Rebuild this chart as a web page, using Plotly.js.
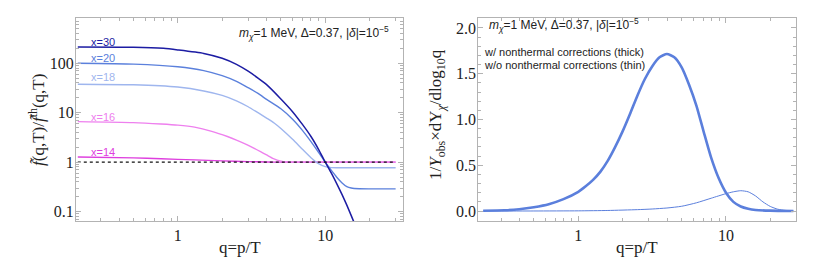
<!DOCTYPE html>
<html>
<head>
<meta charset="utf-8">
<script src="https://cdn.plot.ly/plotly-3.0.1.min.js"></script>
<style>
html,body{margin:0;padding:0;background:#fff;}
#chart{width:830px;height:264px;}
</style>
</head>
<body>
<div id="chart"></div>
<script>
// ---------- Left panel data: ratio f/f_th vs q ----------
const q30 = [0.21, 0.5, 0.8, 1.0, 1.5, 2.0, 2.5, 3.0, 3.5, 4.0, 5.0, 6.0, 7.0, 8.0, 9.0, 10, 11, 12, 13, 14, 15, 16, 17];
const r30 = [214, 211, 200, 186, 158, 126, 95, 69, 50, 37, 19, 10.5, 5.8, 3.3, 1.82, 1.0, 0.60, 0.36, 0.22, 0.135, 0.083, 0.052, 0.033];

const q20 = [0.21, 0.5, 1.0, 1.5, 2.0, 2.5, 3.0, 3.5, 4.0, 5.0, 6.0, 7.0, 8.0, 9.0, 10, 11, 12, 13, 14, 15, 17, 20, 30];
const r20 = [100, 96, 85, 71, 56, 43, 32, 24.5, 18.6, 12.0, 7.4, 4.4, 2.6, 1.58, 1.0, 0.68, 0.49, 0.38, 0.32, 0.30, 0.29, 0.288, 0.288];

const q18 = [0.21, 0.5, 1, 1.5, 2, 2.5, 3, 3.5, 4, 4.5, 5, 6, 7, 8, 9, 10, 11, 12, 30];
const r18 = [37.7, 36.7, 33, 27.5, 22.4, 17.4, 13.2, 10.0, 7.8, 6.2, 4.8, 2.9, 1.82, 1.23, 0.93, 0.81, 0.775, 0.77, 0.77];

const q16 = [0.21, 0.5, 0.77, 1.0, 1.3, 1.7, 2.17, 2.5, 2.96, 3.3, 3.64, 4.0, 4.45, 5.0, 5.5, 6, 30];
const r16 = [6.6, 6.3, 5.9, 5.6, 5.1, 4.2, 3.3, 2.8, 2.24, 1.9, 1.63, 1.4, 1.18, 1.05, 1.01, 1.0, 1.0];

const q14 = [0.21, 0.5, 0.77, 1.3, 2, 3, 4, 5, 30];
const r14 = [1.27, 1.22, 1.17, 1.11, 1.06, 1.025, 1.007, 1.0, 1.0];

const qRef = [0.21, 30];
const rRef = [1, 1];

const curveLabels = ["x=30", "x=20", "x=18", "x=16", "x=14"];

// ---------- Right panel data: 1/Y dY/dlog10 q ----------
const qThick = [0.227, 0.316, 0.398, 0.5, 0.631, 0.794, 1.0, 1.122, 1.259, 1.413, 1.585, 1.778, 1.995, 2.239, 2.512, 2.818, 3.162, 3.548, 3.981, 4.467, 5.012, 5.623, 6.31, 7.079, 7.943, 8.913, 10.0, 11.22, 12.59, 14.13, 15.85, 19.95, 28.6];
const yThick = [0.003, 0.008, 0.02, 0.042, 0.075, 0.13, 0.21, 0.27, 0.34, 0.43, 0.55, 0.70, 0.87, 1.06, 1.26, 1.44, 1.58, 1.68, 1.715, 1.68, 1.57, 1.38, 1.15, 0.86, 0.58, 0.36, 0.20, 0.10, 0.05, 0.025, 0.012, 0.004, 0.001];

const qThin = [0.227, 0.5, 1.0, 1.585, 2.512, 3.162, 3.981, 5.012, 6.31, 7.943, 10.0, 11.22, 12.59, 14.13, 15.85, 17.78, 19.95, 22.39, 25.12, 28.6];
const yThin = [0.0, 0.0005, 0.002, 0.006, 0.015, 0.022, 0.033, 0.052, 0.09, 0.14, 0.19, 0.21, 0.222, 0.21, 0.165, 0.10, 0.05, 0.02, 0.007, 0.002];

const yTicks2 = [0, 0.5, 1, 1.5, 2];
const yTickText2 = ["0.0", "0.5", "1.0", "1.5", "2.0"];

// ---------- styling ----------
const W = 830, H = 264;
const px = v => v / W;
const py = v => 1 - v / H;
const SERIF = "Liberation Serif";
const SANS = "Liberation Sans";
const FRAME = "#b3b3b3";
const C30 = "#1c1ca3", C20 = "#5b80dc", C18 = "#9fb6ee", C16 = "#ee80ee", C14 = "#de3fde";
const CR = "#5b7fdc";

function line(x, y, color, width, xa, ya) {
  return {x: x, y: y, type: "scatter", mode: "lines", xaxis: xa, yaxis: ya,
    line: {color: color, width: width, shape: "spline", smoothing: 0.6},
    hoverinfo: "skip", showlegend: false};
}

const data = [
  line(q14, r14, C14, 1.4, "x", "y"),
  line(q16, r16, C16, 1.4, "x", "y"),
  line(q18, r18, C18, 1.4, "x", "y"),
  line(q20, r20, C20, 1.4, "x", "y"),
  line(q30, r30, C30, 1.5, "x", "y"),
  {x: qRef, y: rRef, type: "scatter", mode: "lines", xaxis: "x", yaxis: "y",
    line: {color: "#111", width: 1.3, dash: "dot"}, hoverinfo: "skip", showlegend: false},
  line(qThin, yThin, CR, 1.0, "x2", "y2"),
  line(qThick, yThick, CR, 2.6, "x2", "y2")
];

function axisBase(extra) {
  return Object.assign({
    showline: true, linecolor: FRAME, linewidth: 1, mirror: "allticks",
    ticks: "inside", ticklen: 5, tickwidth: 1, tickcolor: FRAME,
    showgrid: false, zeroline: false, automargin: false,
    tickfont: {family: SERIF, size: 16, color: "#222"}
  }, extra);
}
function minorLog() {
  return {ticks: "inside", ticklen: 3, dtick: "D1", tickcolor: FRAME, showgrid: false};
}

const yDom = [py(221), py(18)];

const layout = {
  width: W, height: H,
  margin: {l: 0, r: 0, t: 0, b: 0},
  font: {family: SERIF, size: 16, color: "#222"},
  paper_bgcolor: "#fff", plot_bgcolor: "#fff",
  showlegend: false,
  xaxis: axisBase({type: "log", range: [-0.69, 1.527], domain: [px(76), px(403)], anchor: "y",
    dtick: 1, minor: minorLog()}),
  yaxis: axisBase({type: "log", range: [-1.19, 2.915], domain: yDom, anchor: "x",
    dtick: 1, ticklabelstandoff: -2, minor: minorLog()}),
  xaxis2: axisBase({type: "log", range: [-0.677, 1.474], domain: [px(478.3), px(796)], anchor: "y2",
    dtick: 1, minor: minorLog()}),
  yaxis2: axisBase({range: [-0.109, 2.109], domain: yDom, anchor: "x2",
    tickmode: "array", tickvals: yTicks2, ticktext: yTickText2, ticklabelstandoff: -2,
    minor: {ticks: "inside", ticklen: 3, tick0: 0, dtick: 0.1, tickcolor: FRAME, showgrid: false}}),
  annotations: [
    // axis titles
    {text: "<i>f̃</i>(q,T)/<i>f̃</i><sup>th</sup>(q,T)", xref: "paper", yref: "paper",
      x: px(37), y: py(120), textangle: -90, showarrow: false, xanchor: "center", yanchor: "middle",
      font: {family: SERIF, size: 17, color: "#222"}},
    {text: "q=p/T", xref: "paper", yref: "paper", x: px(240), y: py(247), showarrow: false,
      xanchor: "center", yanchor: "middle", font: {family: SERIF, size: 17, color: "#222"}},
    {text: "1/<i>Y</i><sub>obs</sub>×dY<sub><i>χ</i></sub>/dlog<sub>10</sub>q", xref: "paper", yref: "paper",
      x: px(437), y: py(115), textangle: -90, showarrow: false, xanchor: "center", yanchor: "middle",
      font: {family: SERIF, size: 17, color: "#222"}},
    {text: "q=p/T", xref: "paper", yref: "paper", x: px(637), y: py(247), showarrow: false,
      xanchor: "center", yanchor: "middle", font: {family: SERIF, size: 17, color: "#222"}},
    // parameter notes
    {text: "<i>m</i><sub><i>χ</i></sub>=1 MeV, Δ=0.37, |<i>δ</i>|=10<sup>−5</sup>", xref: "paper", yref: "paper",
      x: px(391), y: py(33), showarrow: false, xanchor: "right", yanchor: "middle",
      font: {family: SANS, size: 12, color: "#222"}},
    {text: "<i>m</i><sub><i>χ</i></sub>=1 MeV, Δ=0.37, |<i>δ</i>|=10<sup>−5</sup>", xref: "paper", yref: "paper",
      x: px(487), y: py(25), showarrow: false, xanchor: "left", yanchor: "middle",
      font: {family: SANS, size: 12, color: "#222"}},
    {text: "w/ nonthermal corrections (thick)", xref: "paper", yref: "paper",
      x: px(482), y: py(52), showarrow: false, xanchor: "left", yanchor: "middle",
      font: {family: SANS, size: 11, color: "#222"}},
    {text: "w/o nonthermal corrections (thin)", xref: "paper", yref: "paper",
      x: px(482), y: py(64.5), showarrow: false, xanchor: "left", yanchor: "middle",
      font: {family: SANS, size: 11, color: "#222"}},
    // curve labels
    {text: curveLabels[0], xref: "paper", yref: "paper", x: px(103), y: py(41.5), showarrow: false,
      xanchor: "center", yanchor: "middle", font: {family: SANS, size: 11, color: C30}},
    {text: curveLabels[1], xref: "paper", yref: "paper", x: px(103), y: py(58.3), showarrow: false,
      xanchor: "center", yanchor: "middle", font: {family: SANS, size: 11, color: C20}},
    {text: curveLabels[2], xref: "paper", yref: "paper", x: px(103), y: py(77.3), showarrow: false,
      xanchor: "center", yanchor: "middle", font: {family: SANS, size: 11, color: C18}},
    {text: curveLabels[3], xref: "paper", yref: "paper", x: px(103), y: py(116.7), showarrow: false,
      xanchor: "center", yanchor: "middle", font: {family: SANS, size: 11, color: C16}},
    {text: curveLabels[4], xref: "paper", yref: "paper", x: px(103), y: py(151.7), showarrow: false,
      xanchor: "center", yanchor: "middle", font: {family: SANS, size: 11, color: C14}}
  ]
};

Plotly.newPlot("chart", data, layout, {displayModeBar: false, staticPlot: true});
</script>
</body>
</html>
